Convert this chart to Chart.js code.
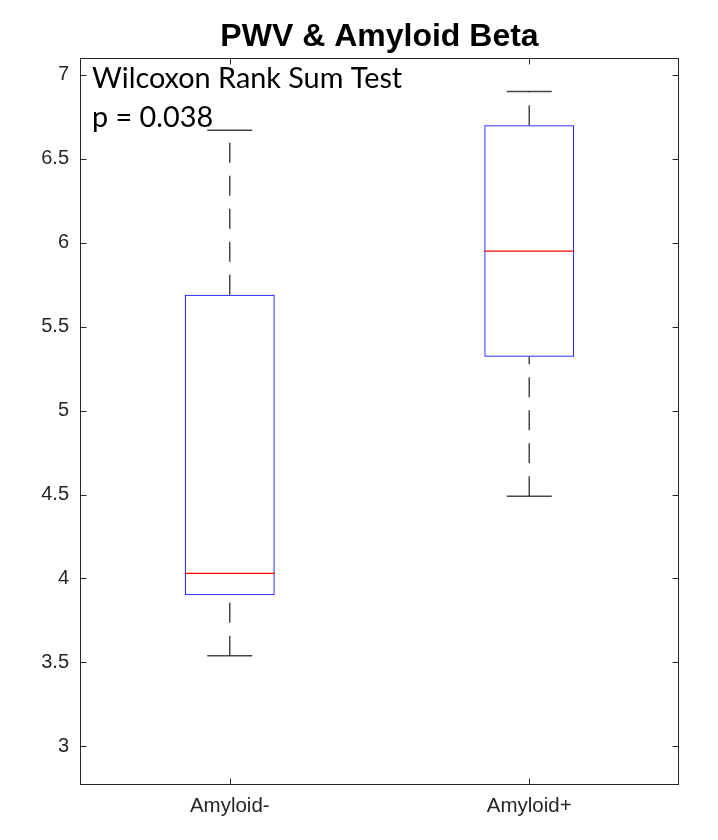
<!DOCTYPE html>
<html>
<head>
<meta charset="utf-8">
<script src="https://cdn.jsdelivr.net/npm/chart.js@4.4.1/dist/chart.umd.min.js"></script>
<style>
  html, body { margin: 0; padding: 0; background: #ffffff; }
  #wrap { width: 718px; height: 840px; position: relative; }
</style>
</head>
<body>
<div id="wrap"><canvas id="c" width="718" height="840"></canvas></div>
<script>
// ---- data ----
const categories = ['Amyloid-', 'Amyloid+'];
const lowerWhisker = [3.54, 4.49];
const q1 = [3.90, 5.32];
const median = [4.03, 5.95];
const q3 = [5.69, 6.70];
const upperWhisker = [6.67, 6.90];
const yTicks = [3, 3.5, 4, 4.5, 5, 5.5, 6, 6.5, 7];
const chartTitle = 'PWV & Amyloid Beta';
const noteLines = ['Wilcoxon Rank Sum Test', 'p = 0.038'];

const AXIS_COLOR = '#262626';
const WHISKER_COLOR = 'rgba(0,0,0,0.72)';
const TICK_FONT = '"Liberation Sans", Arial, sans-serif';

const datasets = [];
// medians (drawn on top)
datasets.push({
  type: 'line', label: 'median', data: median, showLine: false,
  pointStyle: 'line', pointRadius: 45, pointHoverRadius: 45,
  pointBorderColor: '#ff0000', pointBorderWidth: 1.2, borderColor: '#ff0000'
});
// whisker caps
datasets.push({
  type: 'line', label: 'upper cap', data: upperWhisker, showLine: false,
  pointStyle: 'line', pointRadius: 22.5, pointHoverRadius: 22.5,
  pointBorderColor: WHISKER_COLOR, pointBorderWidth: 1.5, borderColor: WHISKER_COLOR
});
datasets.push({
  type: 'line', label: 'lower cap', data: lowerWhisker, showLine: false,
  pointStyle: 'line', pointRadius: 22.5, pointHoverRadius: 22.5,
  pointBorderColor: WHISKER_COLOR, pointBorderWidth: 1.5, borderColor: WHISKER_COLOR
});
// dashed whiskers
categories.forEach((cat, i) => {
  datasets.push({
    type: 'line', label: 'lower whisker ' + cat,
    data: [{x: cat, y: lowerWhisker[i]}, {x: cat, y: q1[i]}],
    borderColor: WHISKER_COLOR, borderWidth: 1.5, borderDash: [20, 13],
    pointRadius: 0, pointHoverRadius: 0
  });
  datasets.push({
    type: 'line', label: 'upper whisker ' + cat,
    data: [{x: cat, y: q3[i]}, {x: cat, y: upperWhisker[i]}],
    borderColor: WHISKER_COLOR, borderWidth: 1.5, borderDash: [20, 13],
    pointRadius: 0, pointHoverRadius: 0
  });
});
// boxes
datasets.push({
  type: 'bar', label: 'box',
  data: categories.map((c, i) => [q1[i], q3[i]]),
  backgroundColor: 'rgba(0,0,0,0)', borderColor: '#0000ff', borderWidth: 1,
  borderSkipped: false, barPercentage: 0.3, categoryPercentage: 1
});

const framePlugin = {
  id: 'frame',
  afterDraw(chart) {
    const ctx = chart.ctx;
    const a = chart.chartArea;
    const xs = chart.scales.x, ys = chart.scales.y;
    ctx.save();
    ctx.strokeStyle = AXIS_COLOR;
    ctx.lineWidth = 1;
    const L = Math.round(a.left) + 0.5, R = Math.round(a.right) - 0.5;
    const T = Math.round(a.top) + 0.5, B = Math.round(a.bottom) - 0.5;
    ctx.strokeRect(L, T, R - L, B - T);
    const tl = 6;
    ctx.beginPath();
    yTicks.forEach(v => {
      const y = Math.round(ys.getPixelForValue(v)) + 0.5;
      ctx.moveTo(L, y); ctx.lineTo(L + tl, y);
      ctx.moveTo(R, y); ctx.lineTo(R - tl, y);
    });
    categories.forEach((c, i) => {
      const x = Math.round(xs.getPixelForValue(i)) + 0.5;
      ctx.moveTo(x, B); ctx.lineTo(x, B - tl);
      ctx.moveTo(x, T); ctx.lineTo(x, T + tl);
    });
    ctx.stroke();
    // category labels
    ctx.fillStyle = AXIS_COLOR;
    ctx.font = '20.5px ' + TICK_FONT;
    ctx.textAlign = 'center';
    ctx.textBaseline = 'middle';
    categories.forEach((c, i) => {
      ctx.fillText(c, xs.getPixelForValue(i), a.bottom + 21);
    });
    // title
    ctx.fillStyle = '#000000';
    ctx.font = 'bold 32px ' + TICK_FONT;
    ctx.textAlign = 'center';
    ctx.textBaseline = 'alphabetic';
    ctx.fillText(chartTitle, (a.left + a.right) / 2, 46);
    // annotation
    ctx.textAlign = 'left';
    ctx.font = '28.8px Lato, "Open Sans", sans-serif';
    ctx.fillText(noteLines[0], 92, 88);
    ctx.fillText(noteLines[1], 92, 127);
    ctx.restore();
  }
};

new Chart(document.getElementById('c'), {
  data: { labels: categories, datasets },
  options: {
    responsive: false,
    animation: false,
    events: [],
    layout: { autoPadding: false, padding: { top: 58, right: 39, left: 0, bottom: 0 } },
    plugins: { legend: { display: false }, tooltip: { enabled: false }, title: { display: false } },
    scales: {
      x: {
        type: 'category', offset: true,
        grid: { display: false, drawTicks: false },
        border: { display: false },
        ticks: { display: false },
        afterFit(s) { s.height = 55; }
      },
      y: {
        type: 'linear', min: 2.77, max: 7.1,
        grid: { display: false, drawTicks: false },
        border: { display: false },
        afterBuildTicks(s) { s.ticks = yTicks.map(v => ({ value: v })); },
        ticks: {
          color: AXIS_COLOR, padding: 11,
          font: { family: TICK_FONT, size: 20 },
          callback: v => String(v)
        },
        afterFit(s) { s.width = 80; }
      }
    }
  },
  plugins: [framePlugin]
});
</script>
</body>
</html>
